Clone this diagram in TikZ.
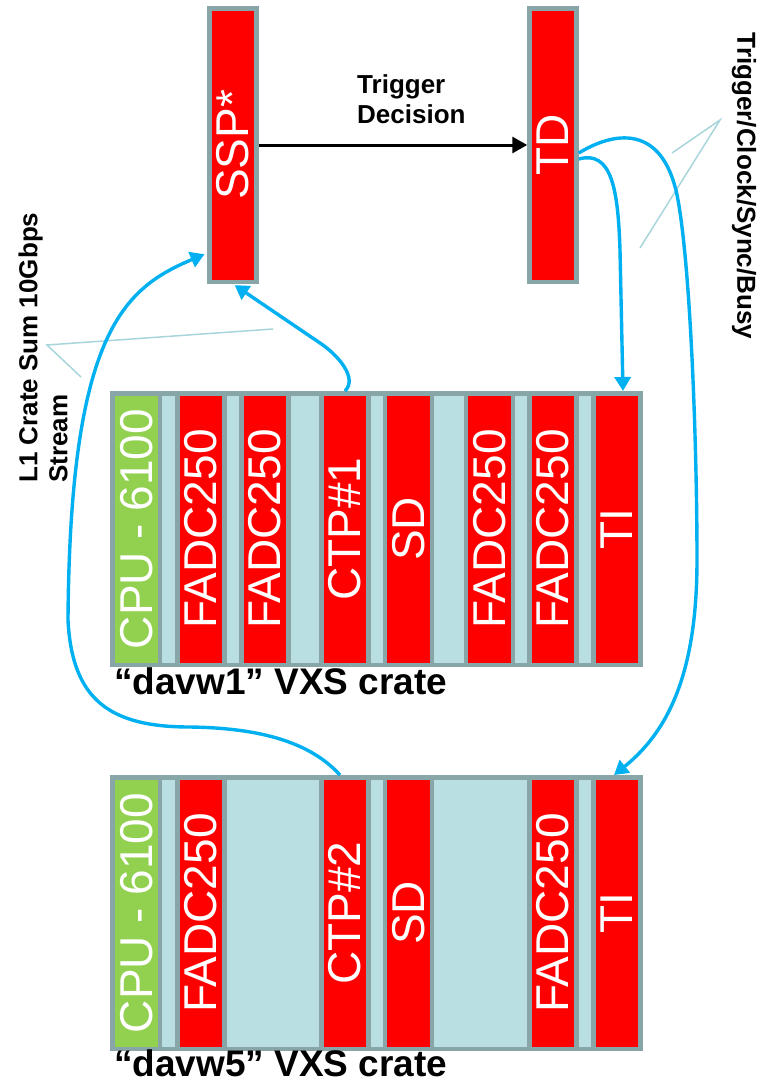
\documentclass[tikz,border=0pt]{standalone}
\usepackage{fontspec}
\setmainfont{Liberation Sans}
\usepackage{tikz}
\usetikzlibrary{arrows.meta}
\definecolor{modred}{HTML}{FF0000}
\definecolor{cpugreen}{HTML}{92D050}
\definecolor{slotblue}{HTML}{B9DFE3}
\definecolor{framegray}{HTML}{88A5A7}
\definecolor{linkblue}{HTML}{00B0F0}
\definecolor{calloutblue}{HTML}{A8D5DB}

\begin{document}
\begin{tikzpicture}[x=1pt, y=-1pt,
	module/.style={rotate=90, draw=framegray, line width=4.5pt, fill=modred, text=white, inner sep=0pt, minimum width=271.5pt, minimum height=47pt, font=\fontsize{46}{50}\selectfont},
	cpu/.style={module, fill=cpugreen},
	crate/.style={draw=framegray, line width=4.5pt, fill=slotblue, inner sep=0pt, minimum width=528.5pt, minimum height=271.5pt},
	link/.style={linkblue, line width=3.4pt, -{Triangle[length=14pt,width=16pt]}},
	callout/.style={calloutblue, line width=1.5pt},
	lbl/.style={font=\fontsize{26}{30}\selectfont\bfseries, inner sep=0pt}]
								\useasboundingbox (0,0) rectangle (759,1082);
								\node[module, minimum width=273.5pt] (ssp) at (233, 145) {SSP*};
								\node[module, minimum width=273.5pt] (td) at (553, 145) {TD};
								\node[lbl, align=left, anchor=west] (dec) at (357, 99) {Trigger\\Decision};
								\node[crate] (c1) at (376.5, 529) {};
								\node[cpu] (cpua) at (136.5, 529) {CPU - 6100};
								\foreach \n/\x in {1/201,2/265,3/489.5,4/553}
									\node[module] (fa\n) at (\x, 529) {FADC250};
								\node[module] (ctpa) at (345, 529) {CTP\#1};
								\node[module] (sda) at (408.5, 529) {SD};
								\node[module] (tia) at (617, 529) {TI};
								\node[lbl, font=\fontsize{37}{40}\selectfont\bfseries, anchor=base west] (n1) at (114, 694) {“davw1” VXS crate};
								\node[crate] (c2) at (376.5, 913) {};
								\node[cpu] (cpub) at (136.5, 913) {CPU - 6100};
								\node[module] (fb1) at (201, 913) {FADC250};
								\node[module] (ctpb) at (345, 913) {CTP\#2};
								\node[module] (sdb) at (408.5, 913) {SD};
								\node[module] (fb2) at (553, 913) {FADC250};
								\node[module] (tib) at (617, 913) {TI};
								\node[lbl, font=\fontsize{37}{40}\selectfont\bfseries, anchor=base west] (n2) at (114, 1076) {“davw5” VXS crate};
								\node[lbl, rotate=90, align=left, anchor=west] (l1) at (43, 483) {L1 Crate Sum 10Gbps\\Stream};
								\node[lbl, rotate=-90] (tcsb) at (744, 186) {Trigger/Clock/Sync/Busy};
								\coordinate (p1) at (47, 345);
								\coordinate (p1a) at (273, 329);
								\coordinate (p1b) at (81, 377);
								\coordinate (p2) at (720, 120);
								\coordinate (p2a) at (672, 153);
								\coordinate (p2b) at (640, 248);
								\draw[callout] (p1a) -- (p1) -- (p1b);
								\draw[callout] (p2a) -- (p2) -- (p2b);
								\draw[line width=3pt, -{Triangle[length=15pt,width=16pt]}] (ssp.south) -- (td.north);
								\draw[link, shorten >=2pt] (ctpa.east) .. controls (358, 378) and (338, 355) .. (320, 343) -- (ssp.west);
								\draw[link, shorten >=3pt] ([xshift=-5pt]ctpb.east) .. controls (310, 742) and (260, 728) .. (190, 727) .. controls (110, 727) and (72, 700) .. (68, 620) .. controls (70, 330) and (125, 288) .. ([yshift=31pt]ssp.north west);
								\draw[link] ([yshift=-8pt]td.south) .. controls (620, 128) and (665, 128) .. (678, 200) .. controls (691, 272) and (697, 450) .. (697, 560) .. controls (697, 670) and (670, 730) .. ([xshift=-3pt]tib.east);
								\draw[link] ([yshift=-14pt]td.south) .. controls (612, 150) and (618, 190) .. (620, 250) -- ([xshift=6pt]tia.east);
							\end{tikzpicture}
\end{document}
